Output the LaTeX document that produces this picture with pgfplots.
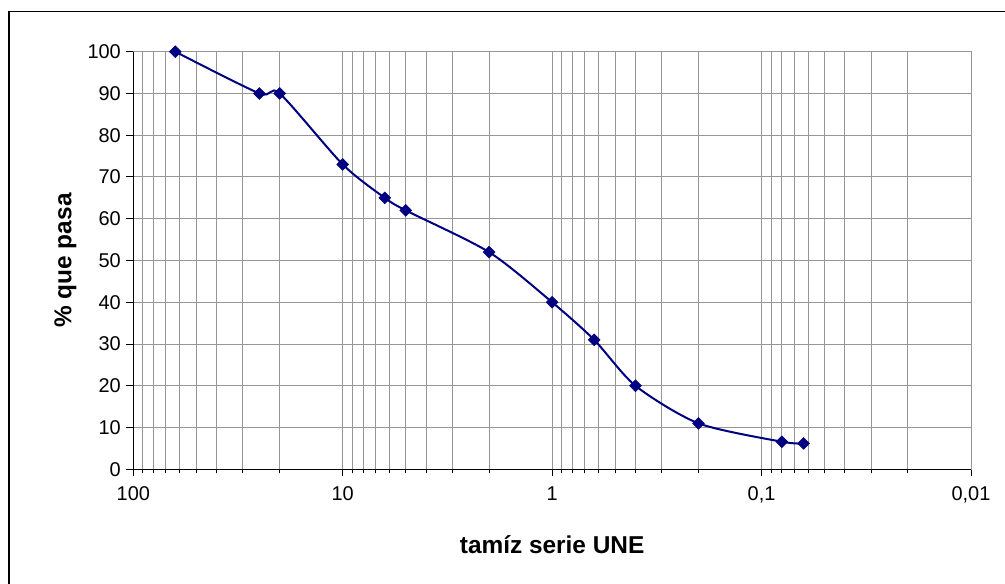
\documentclass[border=0pt]{standalone}
\usepackage{pgfplots}
\pgfplotsset{compat=1.18}
\usepackage{fontspec}
\setmainfont{Liberation Sans}
\definecolor{navy}{RGB}{0,0,128}
\definecolor{gridgray}{RGB}{150,150,150}
\begin{document}
\begin{tikzpicture}
\useasboundingbox (0bp,0bp) rectangle (1005bp,584bp);
\draw[line width=1.3bp] (9bp,-20bp) -- (9bp,572.5bp) -- (1030bp,572.5bp);
\begin{axis}[
  at={(133.3bp,114.7bp)}, anchor=south west,
  scale only axis, width=837.7bp, height=417.6bp,
  xmode=log, x dir=reverse,
  xmin=0.01, xmax=100, ymin=0, ymax=100,
  xtick={100,10,1,0.1,0.01},
  xticklabels={100,10,1,{0,1},{0,01}},
  minor xtick={0.02,0.03,0.04,0.05,0.06,0.07,0.08,0.09,
    0.2,0.3,0.4,0.5,0.6,0.7,0.8,0.9,2,3,4,5,6,7,8,9,
    20,30,40,50,60,70,80,90},
  ytick={0,10,...,100},
  grid=both,
  xminorgrids=true, yminorgrids=false,
  major grid style={gridgray, line width=1bp},
  minor grid style={gridgray, line width=1bp},
  axis line style={gridgray, line width=1bp},
  tick align=outside, tick pos=left,
  major tick length=7bp, minor tick length=4bp,
  every tick/.style={black, line width=1bp},
  tick label style={font=\fontsize{20}{24}\selectfont},
  /pgf/number format/assume math mode=true,
  yticklabel style={xshift=-2bp},
  xticklabel style={yshift=-7bp},
  xlabel={tamíz serie UNE},
  ylabel={\% que pasa},
  label style={font=\fontsize{24.5}{28}\selectfont\bfseries},
  xlabel style={at={(axis description cs:0.5,-0.2028)}, anchor=base},
  ylabel style={at={(axis description cs:-0.0811,0.5)}, anchor=center, rotate=0},
  clip=false,
]
\addplot[navy, line width=2bp, smooth, tension=0.45, mark=square*, mark size=4.2bp,
  mark options={rotate=45, solid, fill=navy, draw=navy, line width=0.5bp}]
  coordinates {
  (63,100) (25,90) (20,90) (10,73) (6.3,65) (5,62) (2,52) (1,40)
  (0.63,31) (0.4,20) (0.2,11) (0.08,6.6) (0.063,6.2)
  };
\draw[black, line width=1.2bp] (rel axis cs:0,1) -- (rel axis cs:0,0) -- (rel axis cs:1,0);
\end{axis}
\end{tikzpicture}
\end{document}
